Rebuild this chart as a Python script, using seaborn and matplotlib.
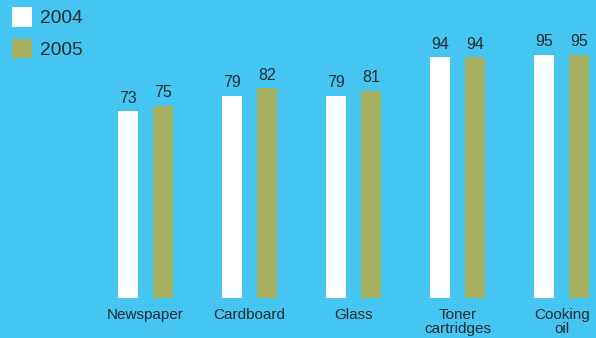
import matplotlib
matplotlib.use("Agg")
import matplotlib.pyplot as plt
import seaborn as sns
import pandas as pd
from matplotlib.patches import Patch

categories = ["Newspaper", "Cardboard", "Glass", "Toner\ncartridges", "Cooking\noil"]
values_2004 = [73, 79, 79, 94, 95]
values_2005 = [75, 82, 81, 94, 95]
years = ["2004", "2005"]

BG = "#45C6F2"
GREEN = "#A5AF5E"
TEXT = "#1E2A33"

df = pd.DataFrame({
    "category": categories * 2,
    "value": values_2004 + values_2005,
    "year": [years[0]] * len(categories) + [years[1]] * len(categories),
})

sns.set_theme(style="white")
plt.rcParams["font.family"] = ["Liberation Sans", "DejaVu Sans"]

fig = plt.figure(figsize=(5.96, 3.38), dpi=100)
fig.patch.set_facecolor(BG)
ax = fig.add_axes([0, 40 / 338, 1, 298 / 338])
ax.set_facecolor(BG)

sns.barplot(data=df, x="category", y="value", hue="year", order=categories,
            hue_order=years, palette={"2004": "white", "2005": GREEN},
            width=0.673, gap=0.43, ax=ax, legend=False, saturation=1,
            linewidth=0, edgecolor="none")

for cont in ax.containers:
    ax.bar_label(cont, fmt="%d", padding=4, fontsize=11.5, color=TEXT)

ax.set_xlim(-145.5 / 104.1, (596 - 145.5) / 104.1)
ax.set_ylim(0, 298 / 2.56)
ax.set_xlabel("")
ax.set_ylabel("")
ax.set_yticks([])
for s in ax.spines.values():
    s.set_visible(False)
ax.tick_params(axis="x", length=0, pad=7.5, labelsize=11, labelcolor=TEXT)
for lab in ax.get_xticklabels():
    lab.set_linespacing(0.95)
    lab.set_verticalalignment("top")

handles = [Patch(facecolor="white", edgecolor="none"), Patch(facecolor=GREEN, edgecolor="none")]
leg = fig.legend(handles, years, loc="upper left", bbox_to_anchor=(12 / 596, 1 - 7 / 338),
                 frameon=False, fontsize=13.8, handlelength=1.05, handleheight=1.2,
                 handletextpad=0.4, labelspacing=0.6, borderaxespad=0, borderpad=0)
for t in leg.get_texts():
    t.set_color(TEXT)

fig.savefig("out.png", dpi=100, facecolor=BG)
